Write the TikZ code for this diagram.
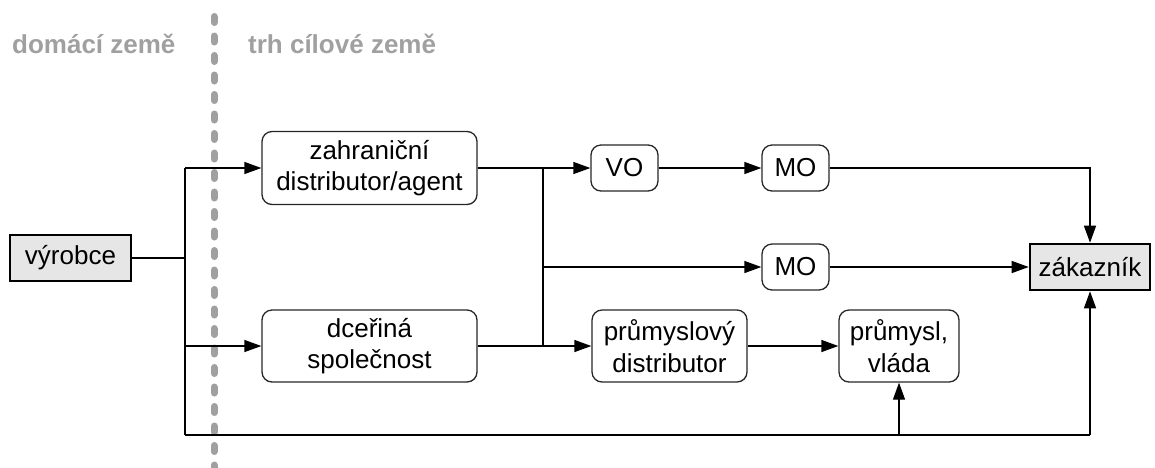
\documentclass[tikz,border=0pt]{standalone}
\usepackage{fontspec}
\setmainfont{Liberation Sans}
\usetikzlibrary{arrows.meta}
\definecolor{hdr}{HTML}{A0A0A0}
\definecolor{boxfill}{HTML}{E6E6E6}
\definecolor{boxline}{HTML}{262626}
\tikzset{
  rbox/.style={draw=boxline, line width=1.3pt, rounded corners=10pt, align=center, inner sep=0pt, font=\fontsize{26}{31.5}\selectfont},
  gbox/.style={draw=black, line width=2.6pt, fill=boxfill, align=center, inner sep=0pt, font=\fontsize{26}{31.5}\selectfont},
  ln/.style={line width=1.3pt, draw=black},
  arr/.style={ln, -{Triangle[length=17pt,width=12pt]}},
  hdrtext/.style={text=hdr, font=\fontsize{26}{31}\selectfont\bfseries, anchor=base west, inner sep=0pt},
}
\begin{document}
\begin{tikzpicture}[x=1pt,y=-1pt]
\useasboundingbox (0,0) rectangle (1155,467);
% border line between countries
\draw[hdr, line width=7pt, line cap=round, dash pattern=on 6pt off 13.5pt] (214,16.5) -- (214,470);
\node[hdrtext] (hdom) at (12,53) {domácí země};
\node[hdrtext] (hcil) at (248,53) {trh cílové země};
% nodes
\node[gbox, minimum width=121pt, minimum height=46pt] (vyr) at (70.5,258) {výrobce};
\node[rbox, minimum width=215pt, minimum height=73pt] (zahr) at (369.5,168) {zahraniční\\distributor/agent};
\node[rbox, minimum width=215pt, minimum height=72pt] (dcer) at (369.5,346) {dceřiná\\společnost};
\node[rbox, minimum width=67pt, minimum height=46pt] (vo) at (624.5,168) {VO};
\node[rbox, minimum width=67pt, minimum height=46pt] (mo1) at (795.5,168) {MO};
\node[rbox, minimum width=67pt, minimum height=46pt] (mo2) at (795.5,267) {MO};
\node[rbox, minimum width=155pt, minimum height=72pt] (prum) at (669.5,346) {průmyslový\\distributor};
\node[rbox, minimum width=120pt, minimum height=72pt] (pv) at (899,346) {průmysl,\\vláda};
\node[gbox, minimum width=120pt, minimum height=46pt] (zak) at (1090,267) {zákazník};
% junction coordinates
\coordinate (j1) at (185,258);
\coordinate (jt) at (185,168);
\coordinate (jb) at (185,346);
\coordinate (jbot) at (185,435);
\coordinate (kt) at (543,168);
\coordinate (km) at (543,267);
\coordinate (kb) at (543,346);
\coordinate (pvb) at (899,435);
\coordinate (zb) at (1090,435);
% connectors
\draw[ln] (vyr.east) -- (j1);
\draw[ln] (jt) -- (jbot);
\draw[arr] (jt) -- (zahr.west);
\draw[arr] (jb) -- (dcer.west);
\draw[ln] (jbot) -- (zb);
\draw[arr] (zb) -- (zak.south);
\draw[arr] (pvb) -- (pv.south);
\draw[arr] (zahr.east) -- (vo.west);
\draw[ln] (kt) -- (kb);
\draw[arr] (dcer.east) -- (prum.west);
\draw[arr] (km) -- (mo2.west);
\draw[arr] (vo.east) -- (mo1.west);
\draw[arr] (mo1.east) -| (zak.north);
\draw[arr] (mo2.east) -- (zak.west);
\draw[arr] (prum.east) -- (pv.west);
\end{tikzpicture}
\end{document}
